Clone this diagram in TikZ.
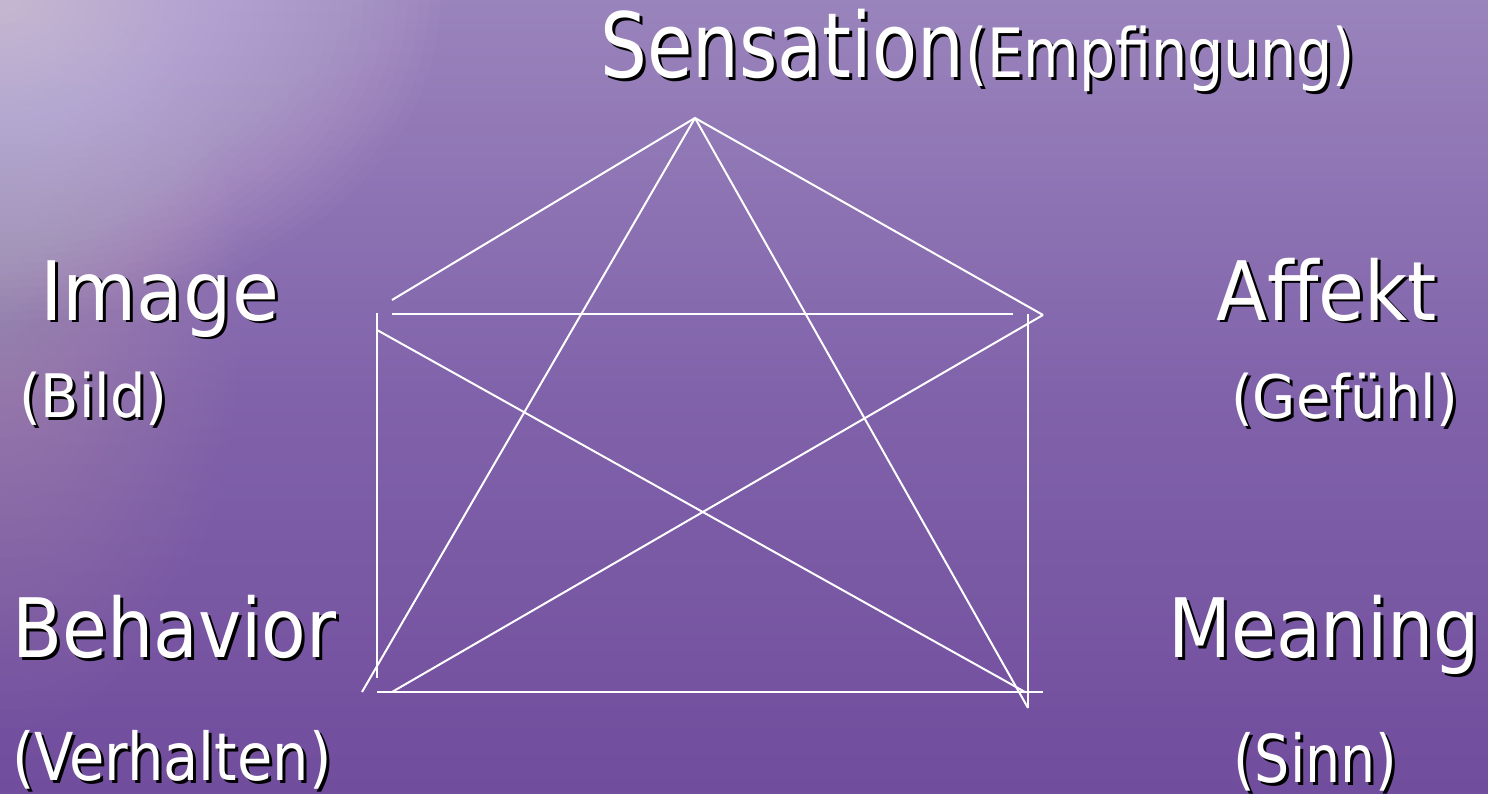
\documentclass[tikz,border=0pt]{standalone}
\usepackage{fontspec}
\usepackage{graphicx}
\setmainfont{DejaVu Sans}
\definecolor{bgtop}{HTML}{9A84BC}
\definecolor{bgmid}{HTML}{8062AA}
\definecolor{bgbot}{HTML}{714D9D}
\definecolor{glow}{HTML}{E8DCF4}
\tikzset{
  lbl/.style={anchor=base west, inner sep=0pt, text=white},
  shd/.style={anchor=base west, inner sep=0pt, text=black},
  edge/.style={draw=white, line width=2pt}
}
% name, x, y(baseline), size, hscale, text
\newcommand{\mylabel}[6]{%
  \node[shd, font=\fontsize{#4}{#4}\selectfont] (#1s) at (#2+3,#3+3) {\scalebox{#5}[1]{#6}};
  \node[lbl, font=\fontsize{#4}{#4}\selectfont] (#1) at (#2,#3) {\scalebox{#5}[1]{#6}};
}
\begin{document}
\begin{tikzpicture}[x=1pt,y=-1pt]
\useasboundingbox (0,0) rectangle (1488,794);
\shade[top color=bgtop, bottom color=bgbot, middle color=bgmid] (0,0) rectangle (1488,794);
\begin{scope}
\clip (0,0) rectangle (1488,794);
\foreach \r in {10,20,...,240} {
  \fill[glow, opacity=0.01] (0,320) ellipse ({\r} and {\r*1.7});
}
\foreach \r in {10,20,...,400} {
  \fill[glow, opacity=0.028] (0,0) ellipse ({\r*1.1} and {\r*0.8});
}
\end{scope}
% points
\coordinate (S) at (695,118);
\coordinate (ul) at (392,300);
\coordinate (ur) at (1043,315);
\coordinate (tl) at (392,314);
\coordinate (tr) at (1013,314);
\coordinate (vlt) at (377,313);
\coordinate (vlb) at (377,678);
\coordinate (vrt) at (1028,314);
\coordinate (vrb) at (1028,708);
\coordinate (bl) at (377,692);
\coordinate (br) at (1043,692);
\coordinate (d1a) at (377,330);
\coordinate (d1b) at (1025,692);
\coordinate (d2b) at (362,692);
\coordinate (d3a) at (392,692);
\draw[edge] (ul) -- (S) -- (ur);
\draw[edge] (tl) -- (tr);
\draw[edge] (vlt) -- (vlb);
\draw[edge] (vrt) -- (vrb);
\draw[edge] (bl) -- (br);
\draw[edge] (d1a) -- (d1b);
\draw[edge] (S) -- (d2b);
\draw[edge] (S) -- (vrb);
\draw[edge] (d3a) -- (ur);
% labels
\mylabel{sens}{600}{78}{90}{0.82}{Sensation}
\mylabel{empf}{965}{78}{68}{0.84}{(Empfingung)}
\mylabel{img}{40}{320}{82}{0.93}{Image}
\mylabel{bild}{19}{417}{60}{0.93}{(Bild)}
\mylabel{aff}{1216}{320}{82}{0.91}{Affekt}
\mylabel{gef}{1231}{418}{60}{0.93}{(Gefühl)}
\mylabel{beh}{12}{657}{82}{0.89}{Behavior}
\mylabel{verh}{12}{780}{66}{0.87}{(Verhalten)}
\mylabel{mean}{1168}{657}{82}{0.89}{Meaning}
\mylabel{sinn}{1233}{782}{66}{0.84}{(Sinn)}
\end{tikzpicture}
\end{document}
